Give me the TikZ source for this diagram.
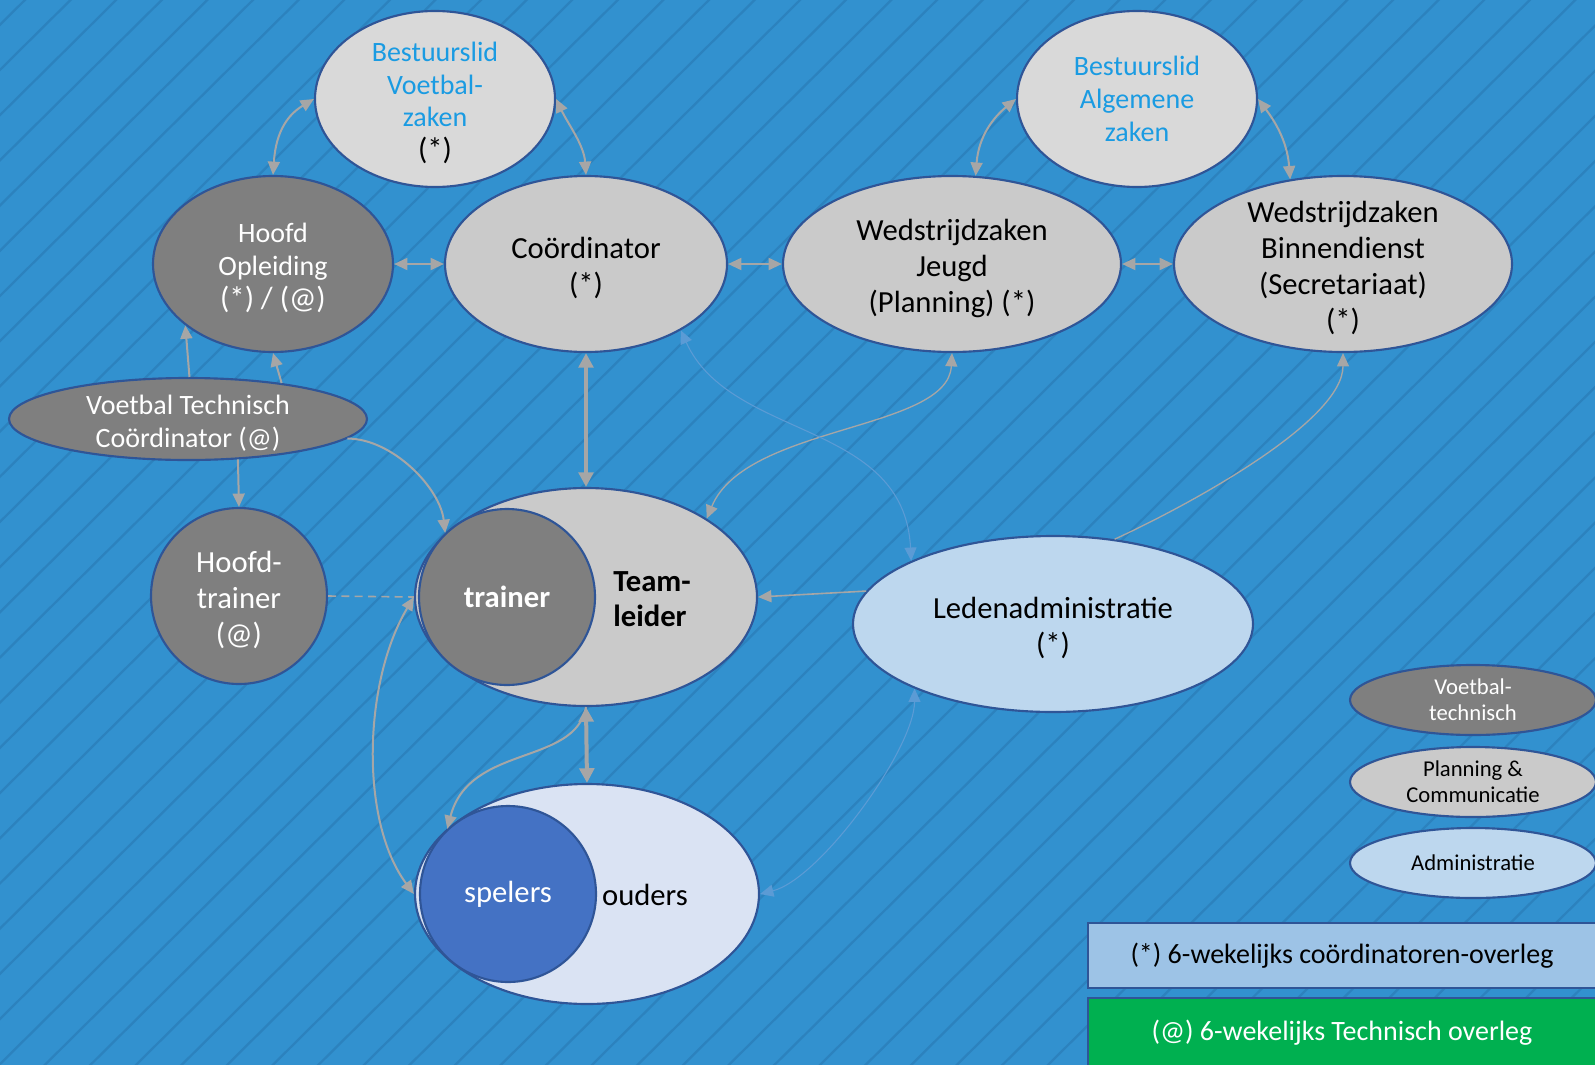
\documentclass[tikz,border=0pt]{standalone}
\usepackage{fontspec}
\setmainfont{Carlito}
\usetikzlibrary{shapes.geometric,arrows.meta}
\definecolor{bg}{HTML}{3291CF}
\definecolor{stripe}{HTML}{2C82BE}
\definecolor{bord}{HTML}{2F5597}
\definecolor{lgray}{HTML}{D9D9D9}
\definecolor{mgray}{HTML}{CACACA}
\definecolor{dgray}{HTML}{7F7F7F}
\definecolor{txtblue}{HTML}{1A9BE2}
\definecolor{adminblue}{HTML}{BDD7EE}
\definecolor{ouderblue}{HTML}{DAE3F3}
\definecolor{spelerblue}{HTML}{4472C4}
\definecolor{boxblue}{HTML}{9DC3E6}
\definecolor{boxgreen}{HTML}{00B050}
\definecolor{arrgray}{HTML}{A6A6A6}
\definecolor{arrblue}{HTML}{5B9BD5}
\begin{document}
\begin{tikzpicture}[x=0.75pt,y=-0.75pt,
  >={Triangle[length=10pt,width=9pt]},
  ell/.style n args={3}{ellipse, draw=bord, line width=1.6pt, fill=#1,
     minimum width=#2*1.5pt, minimum height=#3*1.5pt, inner sep=0pt},
  lab/.style={align=center, inner sep=0pt, font=\fontsize{23}{27}\selectfont},
  labs/.style={align=center, inner sep=0pt, font=\fontsize{21}{24.5}\selectfont},
  labl/.style={align=center, inner sep=0pt, font=\fontsize{17}{19.5}\selectfont},
  sh/.style={yshift=-3pt},
  gboth/.style={draw=arrgray, line width=1.5pt, <->},
  gone/.style={draw=arrgray, line width=1.5pt, ->},
  gthin/.style={draw=arrgray, line width=1pt},
  bthin/.style={draw=arrblue, line width=0.8pt, <->},
  gthick/.style={draw=arrgray, line width=3pt,
     {Triangle[length=11pt,width=11pt]}-{Triangle[length=11pt,width=11pt]}},
  keybox/.style={draw=bord, line width=1.6pt, anchor=north west, inner sep=0pt}
]
\path[use as bounding box] (0,0) rectangle (1595,1064);
% background
\fill[bg] (-10,-10) rectangle (1605,1075);
\begin{scope}
  \clip (-10,-10) rectangle (1605,1075);
  \foreach \k in {0,...,60} {
    \draw[stripe, line width=1.7pt] ({25+45.6*\k-1110},1100) -- ({25+45.6*\k+10},-10);
  }
\end{scope}

% nodes
\node[ell={lgray}{120}{88}] (bv) at (435,99) {};
\node[labs, sh, text=txtblue] at (bv) {Bestuurslid\\Voetbal-\\zaken\\\textcolor{black}{\fontsize{23}{24.5}\selectfont(*)}};
\node[ell={lgray}{120}{88}] (ba) at (1137,99) {};
\node[labs, text=txtblue] at (ba) {Bestuurslid\\Algemene\\zaken};
\node[ell={dgray}{120}{88}] (ho) at (273,264) {};
\node[labs, sh, text=white] at (ho) {Hoofd\\Opleiding\\{\fontsize{23}{24.5}\selectfont(*) / (@)}};
\node[ell={mgray}{141}{88}] (co) at (586,264) {};
\node[lab, sh] at (co) {Coördinator\\(*)};
\node[ell={mgray}{169}{88}] (wj) at (952,264) {};
\node[lab, sh] at (wj) {Wedstrijdzaken\\Jeugd\\(Planning) (*)};
\node[ell={mgray}{169}{88}] (wb) at (1343,264) {};
\node[lab, sh] at (wb) {Wedstrijdzaken\\Binnendienst\\(Secretariaat)\\(*)};
\node[ell={dgray}{179}{41}] (vtc) at (188,419) {};
\node[labs, sh, text=white] at (vtc) {Voetbal Technisch\\Coördinator (@)};
\node[ell={dgray}{88}{88}] (ht) at (239,596) {};
\node[lab, sh, text=white] at (ht) {Hoofd-\\trainer\\(@)};
\node[ell={mgray}{171}{109}] (tl) at (586,597) {};
\node[ell={dgray}{88}{88}] (tr) at (507,597) {};
\node[lab, text=white, font=\fontsize{23}{27}\selectfont\bfseries] at (tr) {trainer};
\node[lab, align=left, font=\fontsize{23}{26}\selectfont\bfseries] (tltxt) at (652,599) {Team-\\leider};
\node[ell={ouderblue}{172}{110}] (ou) at (587,894) {};
\node[ell={spelerblue}{88}{88}] (sp) at (508,894) {};
\node[lab, text=white] at (sp) {spelers};
\node[lab] (outxt) at (645,895) {ouders};
\node[ell={adminblue}{200}{88}] (la) at (1053,624) {};
\node[lab, sh] at (la) {Ledenadministratie\\(*)};

% legend
\node[ell={dgray}{123}{35}] (l1) at (1473,700) {};
\node[labl, text=white] at (l1) {Voetbal-\\technisch};
\node[ell={mgray}{123}{35}] (l2) at (1473,782) {};
\node[labl] at (l2) {Planning \&\\Communicatie};
\node[ell={adminblue}{123}{35}] (l3) at (1473,863) {};
\node[labl] at (l3) {Administratie};
\node[keybox, fill=boxblue, minimum width=520*0.75pt, minimum height=65*0.75pt] (k1) at (1087,922) {};
\node[labs] at (1342,956) {(*) 6-wekelijks coördinatoren-overleg};
\node[keybox, fill=boxgreen, minimum width=520*0.75pt, minimum height=80*0.75pt] (k2) at (1087,997) {};
\node[labs, text=white] at (1342,1033) {(@) 6-wekelijks Technisch overleg};

% connectors
\draw[gboth] (ho.north) .. controls +(3,-45) and +(-25,15) .. (bv.west);
\draw[gboth] (bv.east) .. controls +(12,25) and +(-2,-30) .. (co.north);
\draw[gboth] (ho.east) -- (co.west);
\draw[gboth] (co.east) -- (wj.west);
\draw[gboth] (wj.75) .. controls +(3,-40) and +(-22,18) .. (ba.west);
\draw[gboth] (ba.east) .. controls +(15,20) and +(-3,-40) .. (wb.122);
\draw[gboth] (wj.east) -- (wb.west);
\draw[gone] (vtc.88) -- (ho.215);
\draw[gone] (vtc.21) -- (ho.south);
\draw[gone] (vtc.-39) -- (ht.north);
\draw[gone] (vtc.-7) .. controls +(45,0) and +(-5,-45) .. (tr.134);
\draw[gthick] (co.south) -- (tl.north);
\draw[gthin, <->] (wj.south) .. controls +(-4,78) and +(39,-94) .. (tl.33);
\draw[bthin] (co.-35) .. controls +(50,110) and +(-7,-141) .. (la.156);
\draw[gthin, ->] (la.54) .. controls +(76,-35) and +(0,68) .. (wb.south);
\draw[gthin, ->, line width=1.2pt] (la.170) -- (tl.east);
\draw[draw=arrgray, line width=1.2pt, dash pattern=on 6pt off 4pt] (ht.east) -- (tl.west);
\draw[gboth] (tl.west) .. controls +(-50,83) and +(-55,-74) .. (ou.west);
\draw[gthick] (tl.south) -- (ou.north);
\draw[gone] (tl.south) .. controls +(-11,59) and +(22,-85) .. (sp.133);
\draw[bthin] (ou.east) .. controls +(60,-15) and +(0,60) .. (la.205);
\end{tikzpicture}
\end{document}
